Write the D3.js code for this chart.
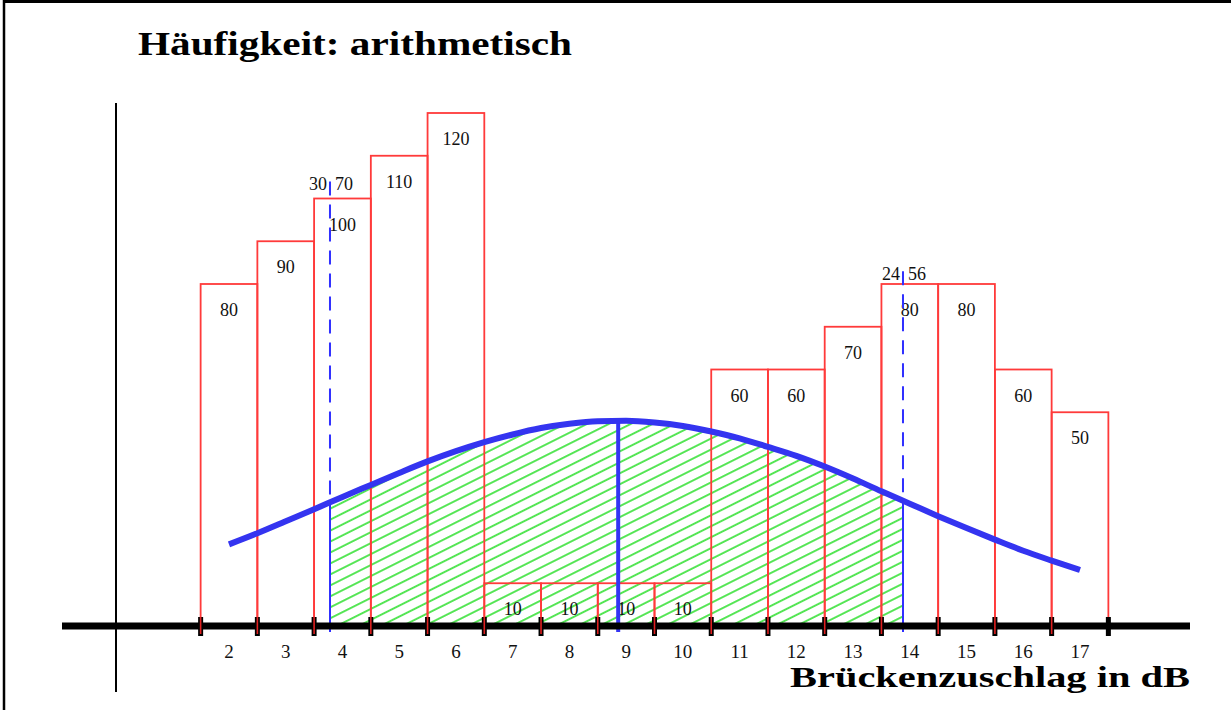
<!DOCTYPE html>
<html>
<head>
<meta charset="utf-8">
<script src="https://cdn.jsdelivr.net/npm/d3@7"></script>
<style>
  html, body { margin: 0; padding: 0; background: #fff; }
  svg { display: block; }
  .bar { fill: none; stroke: #ff3a3a; stroke-width: 1.8; }
  .bar-label, .tick-label, .split-label { font-family: "Liberation Serif", serif; font-size: 18px; fill: #111; }
  .tick-label { font-size: 19px; }
  .title { font-family: "Liberation Serif", serif; font-weight: bold; fill: #000; }
</style>
</head>
<body>
<script>
// class centres (dB) and counts
const classes = [2, 3, 4, 5, 6, 7, 8, 9, 10, 11, 12, 13, 14, 15, 16, 17];
const counts  = [80, 90, 100, 110, 120, 10, 10, 10, 10, 60, 60, 70, 80, 80, 60, 50];

// fitted bell curve, every half dB
const curveX = [2, 2.5, 3, 3.5, 4, 4.5, 5, 5.5, 6, 6.5, 7, 7.5, 8, 8.5, 9, 9.5,
                10, 10.5, 11, 11.5, 12, 12.5, 13, 13.5, 14, 14.5, 15, 15.5, 16, 16.5, 17];
const curveY = [19.1, 21.7, 24.5, 27.3, 30.2, 33.0, 35.8, 38.5, 40.9, 43.0, 44.8, 46.3, 47.3, 47.9, 48.0, 47.6,
                46.8, 45.5, 43.9, 41.9, 39.8, 37.3, 34.5, 31.5, 28.6, 25.7, 22.9, 20.2, 17.6, 15.3, 13.1];

const mean = 8.86;
// mean - s, mean + s, with the split of the class they cut
const sigmaLines = [3.78, 13.88];
const sigmaTops  = [104, 83];
const splitLeft  = ["30", "24"];
const splitRight = ["70", "56"];

const width = 1231, height = 710;

const x = d3.scaleLinear().domain([2, 17]).range([229, 1080]);
const y = d3.scaleLinear().domain([0, 120]).range([626, 113]);
const bw = x(1) - x(0);

const svg = d3.select("body").append("svg")
  .attr("width", width)
  .attr("height", height);

// frame (top and left only)
svg.append("line").attr("x1", 4).attr("x2", width).attr("y1", 1.5).attr("y2", 1.5)
  .attr("stroke", "#000").attr("stroke-width", 3);
svg.append("line").attr("x1", 4).attr("x2", 4).attr("y1", 0).attr("y2", height)
  .attr("stroke", "#000").attr("stroke-width", 2.5);

// hatch pattern
const defs = svg.append("defs");
defs.append("pattern")
  .attr("id", "hatch")
  .attr("patternUnits", "userSpaceOnUse")
  .attr("width", 20).attr("height", 9.8)
  .attr("patternTransform", "rotate(-26.6)")
  .append("line")
  .attr("x1", -1).attr("x2", 21).attr("y1", 4.9).attr("y2", 4.9)
  .attr("stroke", "#2ee02e").attr("stroke-width", 1.6);

defs.append("clipPath").attr("id", "sigclip")
  .append("rect")
  .attr("x", x(sigmaLines[0])).attr("y", 0)
  .attr("width", x(sigmaLines[1]) - x(sigmaLines[0]))
  .attr("height", y(0));

const curvePts = curveX.map((v, i) => [v, curveY[i]]);
const curveAt = d3.scaleLinear().domain(curveX).range(curveY);

svg.append("path")
  .datum(curvePts)
  .attr("clip-path", "url(#sigclip)")
  .attr("fill", "url(#hatch)")
  .attr("d", d3.area().x(d => x(d[0])).y0(y(0)).y1(d => y(d[1])).curve(d3.curveMonotoneX));

// bars
svg.selectAll(".bar")
  .data(classes)
  .join("rect")
  .attr("class", "bar")
  .attr("x", d => x(d - 0.5))
  .attr("width", bw)
  .attr("y", (d, i) => y(counts[i]))
  .attr("height", (d, i) => y(0) - y(counts[i]));

svg.selectAll(".bar-label")
  .data(classes)
  .join("text")
  .attr("class", "bar-label")
  .attr("text-anchor", "middle")
  .attr("x", d => x(d))
  .attr("y", (d, i) => y(counts[i]) + 32)
  .text((d, i) => counts[i]);

// sigma lines: dashed above the curve, solid below it
sigmaLines.forEach((s, i) => {
  svg.append("line")
    .attr("x1", x(s)).attr("x2", x(s))
    .attr("y1", y(sigmaTops[i])).attr("y2", y(curveAt(s)))
    .attr("stroke", "#3030ff").attr("stroke-width", 2)
    .attr("stroke-dasharray", "14,9");
  svg.append("line")
    .attr("x1", x(s)).attr("x2", x(s))
    .attr("y1", y(curveAt(s))).attr("y2", y(0) + 6)
    .attr("stroke", "#3030ff").attr("stroke-width", 2);
  svg.append("text").attr("class", "split-label")
    .attr("text-anchor", "end")
    .attr("x", x(s) - 3).attr("y", y(sigmaTops[i]) + 9)
    .text(splitLeft[i]);
  svg.append("text").attr("class", "split-label")
    .attr("text-anchor", "start")
    .attr("x", x(s) + 5).attr("y", y(sigmaTops[i]) + 9)
    .text(splitRight[i]);
});

// mean line
svg.append("line")
  .attr("x1", x(mean)).attr("x2", x(mean))
  .attr("y1", y(curveAt(mean))).attr("y2", y(0) + 6)
  .attr("stroke", "#3434f4").attr("stroke-width", 4);

// bell curve
svg.append("path")
  .datum(curvePts)
  .attr("fill", "none")
  .attr("stroke", "#3434f0")
  .attr("stroke-width", 6)
  .attr("d", d3.line().x(d => x(d[0])).y(d => y(d[1])).curve(d3.curveMonotoneX));

// axes
svg.append("line")
  .attr("x1", 116).attr("x2", 116).attr("y1", 103).attr("y2", 692)
  .attr("stroke", "#000").attr("stroke-width", 2);
svg.append("line")
  .attr("x1", 62).attr("x2", 1190).attr("y1", y(0)).attr("y2", y(0))
  .attr("stroke", "#000").attr("stroke-width", 7);

const edges = classes.map(d => d - 0.5).concat([classes[classes.length - 1] + 0.5]);
svg.selectAll(".tick")
  .data(edges)
  .join("rect")
  .attr("x", d => x(d) - 2.5)
  .attr("width", 5)
  .attr("y", y(0) - 9)
  .attr("height", 19)
  .attr("fill", "#000");
svg.selectAll(".tick-red")
  .data(edges.slice(0, -1))
  .join("line")
  .attr("x1", d => x(d)).attr("x2", d => x(d))
  .attr("y1", y(0) - 9).attr("y2", y(0) + 8)
  .attr("stroke", "#e02020").attr("stroke-width", 1.6);

svg.selectAll(".tick-label")
  .data(classes)
  .join("text")
  .attr("class", "tick-label")
  .attr("text-anchor", "middle")
  .attr("x", d => x(d))
  .attr("y", 658)
  .text(d => d);

// titles
svg.append("text")
  .attr("class", "title")
  .attr("x", 138).attr("y", 55)
  .attr("font-size", 33)
  .attr("textLength", 434).attr("lengthAdjust", "spacingAndGlyphs")
  .text("Häufigkeit: arithmetisch");

svg.append("text")
  .attr("class", "title")
  .attr("x", 790).attr("y", 687)
  .attr("font-size", 30)
  .attr("textLength", 400).attr("lengthAdjust", "spacingAndGlyphs")
  .text("Brückenzuschlag in dB");
</script>
</body>
</html>
